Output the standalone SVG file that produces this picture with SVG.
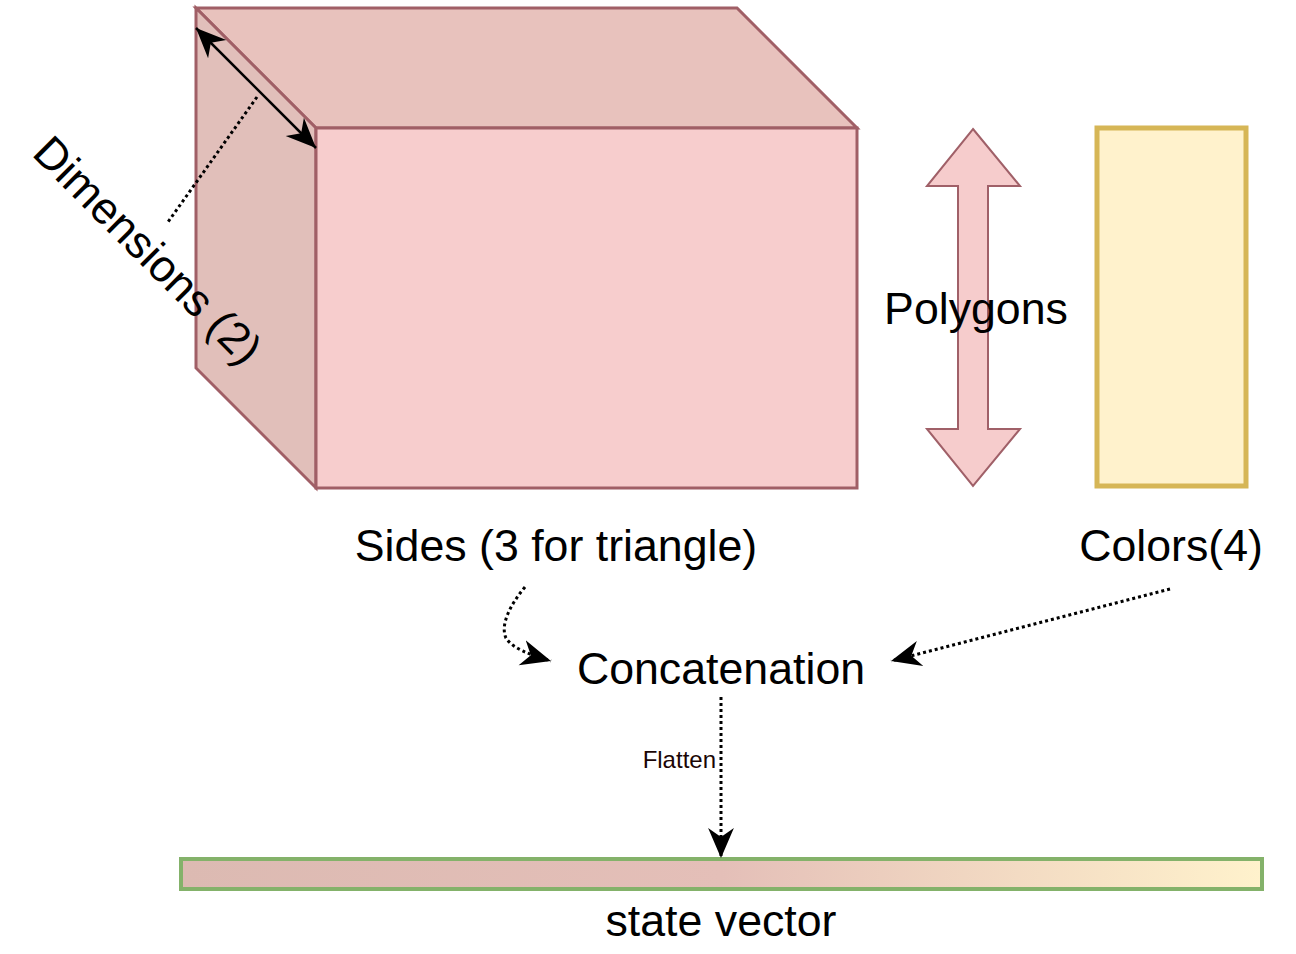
<svg xmlns="http://www.w3.org/2000/svg" width="1296" height="954" viewBox="0 0 1296 954">
<defs>
<style>
.lbl{font-family:"Liberation Sans",Arial,sans-serif;font-size:44.7px;fill:#000;}
.small{font-family:"Liberation Sans",Arial,sans-serif;font-size:24px;fill:#1a0505;}
.face{stroke:#a05f66;stroke-width:3;stroke-linejoin:miter;}
.dot{fill:none;stroke:#000;stroke-width:3;stroke-dasharray:3 3;}
</style>
<linearGradient id="sv" x1="0" y1="0" x2="1" y2="0">
<stop offset="0" stop-color="#dcbab2"/>
<stop offset="0.5" stop-color="#e4bfb8"/>
<stop offset="1" stop-color="#fff2cc"/>
</linearGradient>
<marker id="ahb" viewBox="0 0 10 10" refX="10" refY="5" markerWidth="30" markerHeight="30" orient="auto-start-reverse" markerUnits="userSpaceOnUse">
<path d="M0,0.7 L10,5 L0,9.3 L3,5 Z" fill="#000"/>
</marker>
</defs>

<g id="cube">
<polygon class="face" points="196,8 737,8 857,128 316,128" fill="#e8c2bd"/>
<polygon class="face" points="196,8 316,128 316,488 196,368" fill="#e1bfba"/>
<rect class="face" x="316" y="128" width="541" height="360" fill="#f7cdcd"/>
</g>

<g id="dimensions-label">
<text class="lbl" transform="translate(137,261) rotate(45)" text-anchor="middle">Dimensions (2)</text>
</g>

<g id="polygons-arrow">
<polygon points="973,129 1020,186 988,186 988,429 1020,429 973,486 927,429 958,429 958,186 927,186" fill="#f6cccc" stroke="#a06068" stroke-width="2"/>
<text class="lbl" x="976" y="324" text-anchor="middle">Polygons</text>
</g>

<g id="colors-box">
<rect x="1097" y="128" width="149" height="358" fill="#fff2cc" stroke="#d6b656" stroke-width="5"/>
</g>

<g id="sides-label">
<text class="lbl" x="556" y="561" text-anchor="middle">Sides (3 for triangle)</text>
</g>

<g id="colors-label">
<text class="lbl" x="1171" y="561" text-anchor="middle">Colors(4)</text>
</g>

<g id="concatenation">
<text class="lbl" x="721" y="684" text-anchor="middle">Concatenation</text>
</g>

<g id="state-vector">
<rect x="181" y="859" width="1081" height="30" fill="url(#sv)" stroke="#84b26a" stroke-width="4"/>
<text class="lbl" x="721" y="936" text-anchor="middle">state vector</text>
</g>

<g id="connectors">
<line x1="196" y1="28" x2="316" y2="148" stroke="#000" stroke-width="2.5" marker-start="url(#ahb)" marker-end="url(#ahb)"/>
<line x1="257" y1="97" x2="168" y2="222" class="dot" stroke-width="2.5"/>
<path d="M525,587 C510,605 500,625 506,638 C512,648 530,655 551,661" class="dot" marker-end="url(#ahb)"/>
<path d="M1170,589 L891,661" class="dot" stroke-width="2.5" marker-end="url(#ahb)"/>
<path d="M721,697 L721,858" class="dot" marker-end="url(#ahb)"/>
<text class="small" x="716" y="768" text-anchor="end">Flatten</text>
</g>
</svg>
